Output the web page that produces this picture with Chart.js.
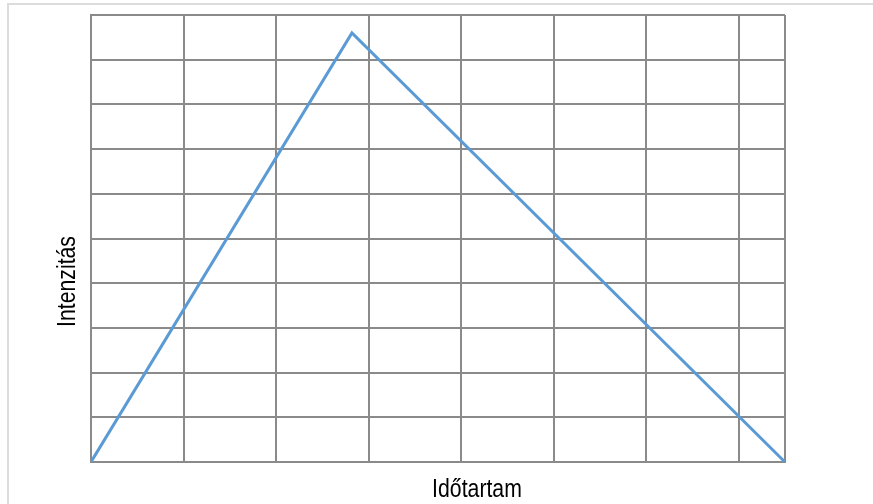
<!DOCTYPE html>
<html>
<head>
<meta charset="utf-8">
<script src="https://cdn.jsdelivr.net/npm/chart.js@4"></script>
<style>
  html, body { margin: 0; padding: 0; background: #fff; }
  #wrap { position: relative; width: 873px; height: 504px; }
  #frame {
    position: absolute; left: 7px; top: 3px; right: 0; bottom: 0;
    border-top: 2px solid #dcdcdc; border-left: 2px solid #dcdcdc;
  }
</style>
</head>
<body>
<div id="wrap">
  <div id="frame"></div>
  <canvas id="intensityChart" width="873" height="504"></canvas>
</div>
<script>
// time (x) and intensity (y) of the triangle's corners
const timeValues = [0, 2.82, 7.5];
const intensityValues = [0, 9.6, 0];
const xTitle = "Időtartam";
const yTitle = "Intenzitás";

const gridColor = "#8a8a8a";
const titleFont = "25px 'Liberation Sans Narrow', 'Arial Narrow', 'Liberation Sans', sans-serif";

// axis titles sit a bit off centre in the original and use a narrow face,
// so draw them ourselves (squeezed along the text direction)
const axisTitles = {
  id: "axisTitles",
  afterDraw(chart) {
    const { ctx, chartArea } = chart;
    const squeeze = 0.85;
    ctx.save();
    ctx.fillStyle = "#000";
    ctx.font = titleFont;
    ctx.textAlign = "center";
    ctx.textBaseline = "alphabetic";

    ctx.save();
    ctx.translate(chartArea.left + (chartArea.right - chartArea.left) / 2 + 39, chartArea.bottom + 35);
    ctx.scale(squeeze, 1);
    ctx.fillText(xTitle, 0, 0);
    ctx.restore();

    ctx.translate(chartArea.left - 16, chartArea.top + (chartArea.bottom - chartArea.top) / 2 + 43);
    ctx.rotate(-Math.PI / 2);
    ctx.scale(squeeze, 1);
    ctx.fillText(yTitle, 0, 0);
    ctx.restore();
  }
};

const context = document.getElementById("intensityChart").getContext("2d");

new Chart(context, {
  type: "line",
  data: {
    datasets: [{
      data: timeValues.map((t, i) => ({ x: t, y: intensityValues[i] })),
      borderColor: "#5b9bd5",
      borderWidth: 3,
      pointRadius: 0,
      tension: 0,
      fill: false,
    }],
  },
  options: {
    responsive: false,
    animation: false,
    layout: {
      padding: { left: 91, top: 15, right: 88, bottom: 42 }
    },
    plugins: {
      legend: { display: false },
      tooltip: { enabled: false },
    },
    scales: {
      x: {
        type: "linear",
        min: 0,
        max: 7.5,
        ticks: { display: false, stepSize: 1 },
        grid: { color: gridColor, lineWidth: 2, drawTicks: false },
        border: { color: gridColor, width: 2 },
      },
      y: {
        min: 0,
        max: 10,
        ticks: { display: false, stepSize: 1 },
        grid: { color: gridColor, lineWidth: 2, drawTicks: false },
        border: { color: gridColor, width: 2 },
      },
    },
  },
  plugins: [axisTitles],
});
</script>
</body>
</html>
